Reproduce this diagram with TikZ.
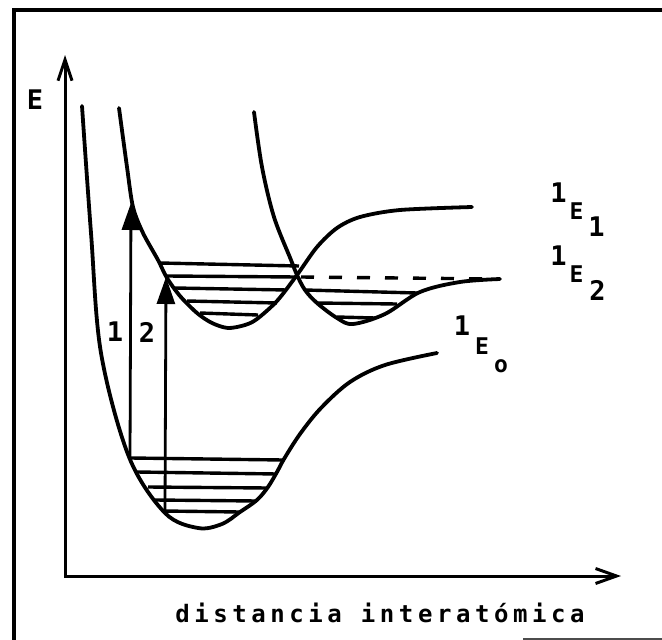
\documentclass[tikz,border=0pt]{standalone}
\usepackage{fontspec}
\newfontfamily\plotfont{DejaVu Sans Mono}
\usetikzlibrary{arrows.meta}
\tikzset{
  curve/.style={line width=3.8pt, line cap=round, line join=round},
  level/.style={line width=3.4pt},
  axis/.style={line width=3pt},
  trans/.style={line width=2.8pt, -{Triangle[length=27pt,width=18pt]}},
  big/.style={inner sep=0pt, font=\plotfont\bfseries\fontsize{27}{27}\selectfont},
  mid/.style={inner sep=0pt, font=\plotfont\bfseries\fontsize{23}{23}\selectfont},
}
\begin{document}
\begin{tikzpicture}[x=1pt,y=-1pt]
\useasboundingbox (0,0) rectangle (662,640);
% frame
\draw[line width=4.5pt] (14,640) -- (14,10) -- (662,10);
\draw[line width=2pt, black!70] (523,639) -- (662,639);
% axes
\coordinate (origin) at (65,576);
\coordinate (ytip) at (65,55);
\coordinate (xtip) at (621,576);
\draw[axis, {Straight Barb[length=21pt,width=14pt]}-{Straight Barb[length=21pt,width=15pt]}] (ytip) -- (origin) -- (xtip);
\node[big] (elabel) at (35,100) {E};
\node[inner sep=0pt, anchor=base, font=\plotfont\bfseries\fontsize{24}{24}\selectfont\addfontfeature{LetterSpace=19}] (xlabel) at (380,622) {distancia interatómica};
% ground state
\draw[curve] plot[smooth, tension=0.55] coordinates {(82,106) (91,233) (101,353) (129,457) (165,513) (198,528) (222,524) (240,512) (257,500) (268,487) (277,472) (284,459) (300,434) (321,408) (350,382) (385,365) (437,353)};
% left excited well continuing to E1
\draw[curve] plot[smooth, tension=0.5] coordinates {(119,108) (127,167) (133,207) (143,233) (158,260) (167,278) (180,296) (197,313) (212,323) (228,328) (245,325) (257,319) (277,301) (297,275) (317,247) (337,228) (360,217) (400,210) (472,207)};
% right well E2
\draw[curve] plot[smooth, tension=0.55] coordinates {(254,112) (262,167) (274,217) (291,260) (297,275) (305,290) (317,303) (337,318) (353,324) (385,314) (420,292) (460,282) (500,279)};
% vibrational levels ground
\draw[level] (131,458) -- (283,460);
\draw[level] (137,472) -- (277,474);
\draw[level] (148,487) -- (268,488);
\draw[level] (155,500) -- (257,501);
\draw[level] (163,511) -- (240,512);
% vibrational levels left upper well
\draw[level] (160,263) -- (299,266);
\draw[level] (167,276) -- (297,277);
\draw[level] (175,288) -- (287,290);
\draw[level] (187,301) -- (277,303);
\draw[level] (200,313) -- (258,315);
% right well levels
\draw[level] (305,290) -- (417,293);
\draw[level] (317,303) -- (397,304);
\draw[level] (337,317) -- (375,318);
% dashed
\draw[level, dash pattern=on 13pt off 15pt] (301,277) -- (498,279);
% transitions
\coordinate (a1s) at (130,458);
\coordinate (a1e) at (131,203);
\coordinate (a2s) at (165,511);
\coordinate (a2e) at (166,277);
\draw[trans] (a1s) -- (a1e);
\draw[trans] (a2s) -- (a2e);
\node[big] (n1) at (115,332) {1};
\node[big] (n2) at (147,332) {2};
% state labels
\node[big] (e1sup) at (558.5,192.5) {1};
\node[mid] (e1E) at (576.5,211.5) {E};
\node[big] (e1sub) at (596.5,227) {1};
\node[big] (e2sup) at (558.5,256) {1};
\node[mid] (e2E) at (576.5,274) {E};
\node[big] (e2sub) at (597.5,290) {2};
\node[big] (e0sup) at (462,326) {1};
\node[mid] (e0E) at (482,346) {E};
\node[mid] (e0sub) at (501,366) {o};
\end{tikzpicture}
\end{document}
